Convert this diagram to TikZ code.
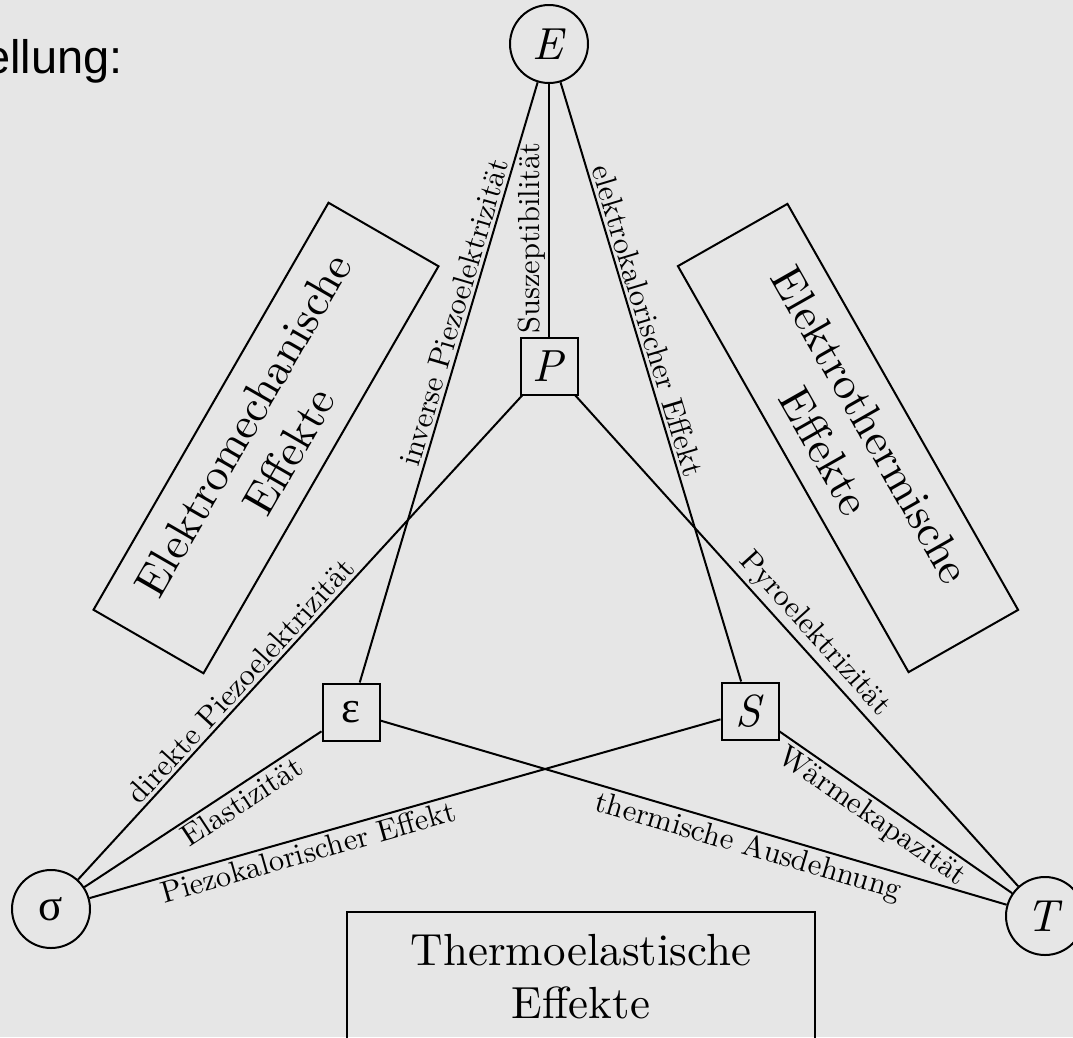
\documentclass[tikz,border=0pt]{standalone}
\usepackage{fontspec}
\usepackage{xcolor}
\setmainfont{lmroman10-regular.otf}[ItalicFont=lmroman10-italic.otf,BoldFont=lmroman10-bold.otf]
\newfontfamily\greekfont{Liberation Serif}
\newfontfamily\slidefont{Liberation Sans}
\usetikzlibrary{positioning}
\definecolor{paper}{HTML}{E6E6E6}

\begin{document}
\begin{tikzpicture}[x=1pt,y=-1pt]
\tikzset{quantity/.style={circle,draw,line width=2pt,minimum size=78pt,inner sep=0pt,font=\fontsize{45}{53}\selectfont},
derived/.style={rectangle,draw,line width=2pt,minimum size=57pt,inner sep=0pt,font=\fontsize{45}{53}\selectfont},
effectbox/.style={rectangle,draw,line width=2pt,align=center,inner sep=0pt,font=\fontsize{45}{53}\selectfont},
effect/.style={line width=2pt},
coeff/.style={sloped,inner sep=3pt,font=\fontsize{30.5}{34}\selectfont}}
\useasboundingbox (0,0) rectangle (1073,1037);
\fill[paper] (0,0) rectangle (1073,1037);
\node[font=\slidefont\fontsize{47}{56}\selectfont,anchor=base west,inner sep=0pt](title) at (-16,73){ellung:};
% Zustandsgroessen
\node[quantity](E) at (549,44){\textit{E}};
\node[quantity](sigma) at (51,909){\greekfont σ};
\node[quantity](T) at (1045,916){\textit{T}};
\node[derived](P) at (549,366){\textit{P}};
\node[derived](eps) at (351,712){\greekfont ε};
\node[derived](S) at (750,711){\textit{S}};
% Effekte
\node[effectbox,minimum width=470pt,minimum height=127pt,rotate=60](mech) at (266,438){Elektromechanische\\Effekte};
\node[effectbox,minimum width=467pt,minimum height=126pt,rotate=-60.4](therm) at (848,438){Elektrothermische\\Effekte};
\node[effectbox,minimum width=468pt,minimum height=130pt](elast) at (581,977){Thermoelastische\\Effekte};
% Verbindungen
\draw[effect](P) -- node[coeff,above,pos=0.39]{Suszeptibilität} (E);
\draw[effect](eps) -- node[coeff,above,pos=0.61]{inverse Piezoelektrizität} (E);
\draw[effect](E) -- node[coeff,above,pos=0.405]{elektrokalorischer Effekt} (S);
\draw[effect](sigma) -- node[coeff,above,pos=0.39]{direkte Piezoelektrizität} (P);
\draw[effect](P) -- node[coeff,above,pos=0.51]{Pyroelektrizität} (T);
\draw[effect](sigma) -- node[coeff,below,pos=0.63]{Elastizität} (eps);
\draw[effect](sigma) -- node[coeff,below,pos=0.34]{Piezokalorischer Effekt} (S);
\draw[effect](eps) -- node[coeff,below,pos=0.595]{thermische Ausdehnung} (T);
\draw[effect](S) -- node[coeff,below,pos=0.44]{Wärmekapazität} (T);
\end{tikzpicture}
\end{document}
